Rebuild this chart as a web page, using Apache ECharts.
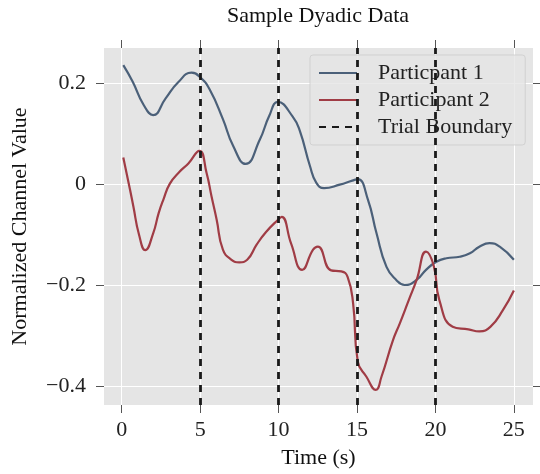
<!DOCTYPE html>
<html>
<head>
<meta charset="utf-8">
<script src="https://cdn.jsdelivr.net/npm/echarts@6/dist/echarts.min.js"></script>
<style>
  body { margin: 0; background: #fff; }
  #chart { width: 540px; height: 474px; }
</style>
</head>
<body>
<div id="chart"></div>
<script>
// values
const p1X = [0.1, 0.7, 1.4, 2.0, 2.8, 3.6, 4.45, 5.0, 5.6, 6.45, 7.1, 7.9, 8.8, 9.4, 9.95, 10.9, 11.35, 12.0, 12.4, 12.9, 13.9, 14.7, 15.05, 15.7, 16.24, 16.88, 17.5, 18.04, 18.8, 19.4, 20.06, 20.7, 21.55, 22.2, 22.8, 23.45, 24.1, 25.0];
const p1Y = [0.236, 0.203, 0.157, 0.137, 0.170, 0.202, 0.221, 0.212, 0.188, 0.129, 0.076, 0.040, 0.088, 0.135, 0.163, 0.134, 0.106, 0.036, 0.003, -0.008, -0.001, 0.007, 0.010, -0.031, -0.097, -0.164, -0.190, -0.200, -0.190, -0.170, -0.154, -0.147, -0.144, -0.137, -0.124, -0.117, -0.124, -0.150];
const p2X = [0.1, 0.53, 0.74, 1.1, 1.5, 2.01, 2.35, 2.65, 3.07, 3.7, 4.25, 4.95, 5.41, 5.73, 6.05, 6.45, 7.0, 7.5, 8.0, 8.6, 9.2, 9.95, 10.2, 10.8, 11.5, 12.2, 12.5, 13.35, 14.0, 14.4, 14.75, 15.05, 15.6, 16.2, 16.56, 17.3, 17.73, 18.3, 18.8, 19.4, 19.9, 20.25, 21.1, 22.1, 22.8, 23.5, 24.3, 25.0];
const p2Y = [0.053, -0.011, -0.044, -0.100, -0.131, -0.097, -0.058, -0.031, 0.001, 0.025, 0.041, 0.066, 0.022, -0.025, -0.070, -0.130, -0.150, -0.155, -0.150, -0.120, -0.095, -0.071, -0.065, -0.118, -0.170, -0.130, -0.124, -0.171, -0.173, -0.184, -0.236, -0.352, -0.382, -0.408, -0.382, -0.309, -0.276, -0.230, -0.190, -0.134, -0.163, -0.230, -0.283, -0.288, -0.292, -0.283, -0.250, -0.211];
const boundaries = [5, 10, 15, 20];
const xTicks = [0, 5, 10, 15, 20, 25];
const yTicks = [-0.4, -0.2, 0, 0.2];
const seriesNames = ["Particpant 1", "Participant 2", "Trial Boundary"];

const font = "Liberation Serif";
const tickStyle = { color: "#555", width: 1 };

const zip = (xs, ys) => xs.map((x, i) => [x, ys[i]]);
const fmtY = (v) => (v === 0 ? "0" : v.toFixed(1).replace("-", "\u2212"));

const chart = echarts.init(document.getElementById("chart"));

const option = {
  animation: false,
  title: {
    text: "Sample Dyadic Data",
    left: 318,
    top: 5,
    padding: 0,
    textAlign: "center",
    textStyle: { fontFamily: font, fontSize: 22, fontWeight: "normal", color: "#111" },
  },
  legend: {
    orient: "vertical",
    left: 310,
    top: 55,
    padding: [7, 13, 7, 8],
    itemGap: 5,
    itemWidth: 38,
    itemHeight: 14,
    backgroundColor: "rgba(229,229,229,0.8)",
    borderColor: "rgba(204,204,204,0.8)",
    borderWidth: 1,
    borderRadius: 3,
    data: seriesNames,
    itemStyle: { opacity: 0 },
    textStyle: {
      fontFamily: font,
      fontSize: 22,
      lineHeight: 22,
      color: "#222",
      padding: [0, 0, 0, 16],
    },
  },
  grid: {
    left: 104,
    right: 7,
    top: 48,
    bottom: 69,
    show: true,
    backgroundColor: "#e5e5e5",
    borderWidth: 0,
  },
  xAxis: [
    {
      type: "value",
      min: -1.13,
      max: 26.22,
      position: "bottom",
      name: "Time (s)",
      nameLocation: "middle",
      nameGap: 42,
      nameTextStyle: { fontFamily: font, fontSize: 22, color: "#111" },
      axisLine: { show: false, onZero: false },
      axisTick: { show: true, customValues: xTicks, length: 8, lineStyle: tickStyle },
      axisLabel: { customValues: xTicks, margin: 14, fontFamily: font, fontSize: 22, color: "#222" },
      splitLine: { show: true, lineStyle: { color: "#fff", width: 1 } },
    },
    {
      type: "value",
      min: -1.13,
      max: 26.22,
      position: "top",
      axisLine: { show: false, onZero: false },
      axisTick: { show: true, customValues: xTicks, length: 8, lineStyle: tickStyle },
      axisLabel: { show: false },
      splitLine: { show: false },
    },
  ],
  yAxis: [
    {
      type: "value",
      min: -0.438,
      max: 0.27,
      splitNumber: 3,
      position: "left",
      name: "Normalized Channel Value",
      nameLocation: "middle",
      nameGap: 73,
      nameTextStyle: { fontFamily: font, fontSize: 22, color: "#111" },
      axisLine: { show: false, onZero: false },
      axisTick: { show: true, customValues: yTicks, length: 8, lineStyle: tickStyle },
      axisLabel: { customValues: yTicks, margin: 18, fontFamily: font, fontSize: 22, color: "#222", formatter: fmtY },
      splitLine: { show: true, lineStyle: { color: "#fff", width: 1 } },
    },
    {
      type: "value",
      min: -0.438,
      max: 0.27,
      position: "right",
      axisLine: { show: false, onZero: false },
      axisTick: { show: true, customValues: yTicks, length: 8, lineStyle: tickStyle },
      axisLabel: { show: false },
      splitLine: { show: false },
    },
  ],
  series: [
    {
      name: seriesNames[0],
      type: "line",
      data: zip(p1X, p1Y),
      smooth: 0.5,
      showSymbol: false,
      symbol: "none",
      color: "#4b6079",
      lineStyle: { width: 2.2, color: "#4b6079" },
    },
    {
      name: seriesNames[1],
      type: "line",
      data: zip(p2X, p2Y),
      smooth: 0.5,
      showSymbol: false,
      symbol: "none",
      color: "#a03c45",
      lineStyle: { width: 2.2, color: "#a03c45" },
    },
    {
      name: seriesNames[2],
      type: "line",
      data: [],
      symbol: "none",
      color: "#1a1a1a",
      lineStyle: { width: 2.8, type: [7, 6], color: "#1a1a1a" },
      z: 3,
      markLine: {
        silent: true,
        symbol: ["none", "none"],
        label: { show: false },
        lineStyle: { width: 2.8, type: [7, 6], color: "#1a1a1a" },
        data: boundaries.map((b) => ({ xAxis: b })),
      },
    },
  ],
};

chart.setOption(option);
window.onresize = () => {
  chart.resize();
};
</script>
</body>
</html>
